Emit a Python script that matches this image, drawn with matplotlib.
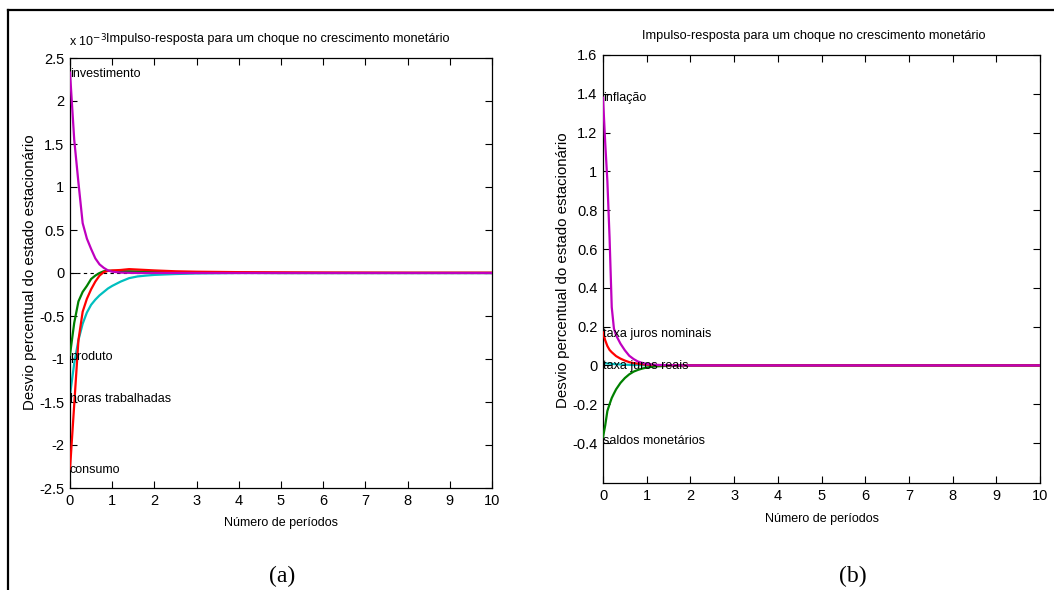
import matplotlib
matplotlib.use("Agg")
import matplotlib.pyplot as plt
from matplotlib.lines import Line2D

plt.rcParams['font.family'] = ['Liberation Sans', 'DejaVu Sans']

# ---------------- data: panel (a), values x 10^-3 ----------------
t_a = [0, 0.1, 0.2, 0.3, 0.4, 0.5, 0.6, 0.7, 0.8, 0.9, 1.0, 1.2, 1.4, 1.6, 1.8, 2.0,
       2.5, 3.0, 4, 5, 6, 7, 8, 9, 10]
horas = [-1.42, -1.05, -0.78, -0.59, -0.46, -0.37, -0.31, -0.26, -0.22, -0.18, -0.15,
         -0.10, -0.06, -0.04, -0.03, -0.022, -0.012, -0.005, 0, 0, 0, 0, 0, 0, 0]
produto = [-0.95, -0.58, -0.33, -0.22, -0.15, -0.07, -0.03, 0.0, 0.02, 0.025, 0.025,
           0.02, 0.02, 0.018, 0.015, 0.012, 0.008, 0.005, 0.002, 0, 0, 0, 0, 0, 0]
consumo = [-2.28, -1.53, -0.78, -0.45, -0.30, -0.19, -0.10, -0.03, 0.01, 0.025, 0.03,
           0.035, 0.045, 0.04, 0.035, 0.03, 0.02, 0.015, 0.01, 0.008, 0.006, 0.005, 0.004, 0.004, 0.004]
investimento = [2.33, 1.55, 1.05, 0.58, 0.40, 0.28, 0.17, 0.10, 0.06, 0.03, 0.015,
                0.005, 0.002, 0, 0, 0, 0, 0, 0, 0, 0, 0, 0, 0, 0]

# ---------------- data: panel (b) ----------------
t_b = [0, 0.05, 0.1, 0.15, 0.2, 0.25, 0.3, 0.4, 0.5, 0.6, 0.7, 0.8, 0.9, 1.0, 1.2,
       1.5, 2, 3, 4, 5, 6, 7, 8, 9, 10]
juros_reais = [0.012, 0.011, 0.01, 0.009, 0.008, 0.007, 0.006, 0.005, 0.004, 0.003,
               0.002, 0.002, 0.001, 0.001, 0, 0, 0, 0, 0, 0, 0, 0, 0, 0, 0]
saldos = [-0.37, -0.31, -0.235, -0.2, -0.168, -0.145, -0.123, -0.09, -0.065, -0.046,
          -0.032, -0.023, -0.016, -0.011, -0.005, -0.002, 0, 0, 0, 0, 0, 0, 0, 0, 0]
juros_nominais = [0.17, 0.13, 0.10, 0.08, 0.068, 0.058, 0.048, 0.035, 0.025, 0.017,
                  0.012, 0.009, 0.006, 0.004, 0.002, 0.001, 0, 0, 0, 0, 0, 0, 0, 0, 0]
inflacao = [1.38, 1.15, 0.95, 0.66, 0.30, 0.19, 0.155, 0.112, 0.078, 0.05, 0.033,
            0.02, 0.013, 0.008, 0.003, 0.001, 0, 0, 0, 0, 0, 0, 0, 0, 0]

xticks = list(range(0, 11))
yticks_a = [-2.5, -2, -1.5, -1, -0.5, 0, 0.5, 1, 1.5, 2, 2.5]
yticks_b = [-0.4, -0.2, 0, 0.2, 0.4, 0.6, 0.8, 1, 1.2, 1.4, 1.6]

title = 'Impulso-resposta para um choque no crescimento monetário'
ylabel = 'Desvio percentual do estado estacionário'
xlabel = 'Número de períodos'

MAG = '#BF00BF'
GRN = '#008000'
RED = '#FF0000'
CYN = '#00BFBF'
LW = 1.6
FS = 10.5     # tick labels
FT = 9.2      # titles
FA = 9.0      # annotations / x labels
FY = 10.8     # y labels

W, H = 1054, 590
fig = plt.figure(figsize=(W / 100, H / 100), dpi=100)


def fx(px):
    return px / W


def fy(py):
    return 1 - py / H


def style(ax, yticks, ylim):
    ax.set_xlim(0, 10)
    ax.set_ylim(*ylim)
    ax.set_xticks(xticks)
    ax.set_yticks(yticks)
    ax.set_yticklabels([('%g' % v) for v in yticks])
    ax.tick_params(direction='in', top=True, right=True, length=5, width=0.8,
                   labelsize=FS, pad=4)
    for s in ax.spines.values():
        s.set_linewidth(0.9)


# ---- panel (a)
ax1 = fig.add_axes([fx(70), fy(488), fx(492 - 70), (488 - 58) / H])
ax1.axhline(0, color='black', lw=0.8, ls=(0, (3, 3)), zorder=1)
ax1.plot(t_a, horas, color=CYN, lw=LW, zorder=2)
ax1.plot(t_a, produto, color=GRN, lw=LW, zorder=3)
ax1.plot(t_a, consumo, color=RED, lw=LW, zorder=4)
ax1.plot(t_a, investimento, color=MAG, lw=LW, zorder=5)
style(ax1, yticks_a, (-2.5, 2.5))
ax1.text(0, 2.31, 'investimento', fontsize=FA, va='center', ha='left', zorder=6)
ax1.text(0, -0.98, 'produto', fontsize=FA, va='center', ha='left', zorder=6)
ax1.text(0, -1.47, 'horas trabalhadas', fontsize=FA, va='center', ha='left', zorder=6)
ax1.text(0, -2.29, 'consumo', fontsize=FA, va='center', ha='left', zorder=6)
fig.text(fx(69), fy(41), r'x 10$^{-3}$', fontsize=FA, ha='left', va='center')
fig.text(fx(278), fy(39), title, fontsize=FT, ha='center', va='center')
fig.text(fx(281), fy(523), xlabel, fontsize=FA, ha='center', va='center')
fig.text(fx(30), fy(272), ylabel, fontsize=FY, ha='center', va='center', rotation=90)

# ---- panel (b)
ax2 = fig.add_axes([fx(603), fy(483), fx(1040 - 603), (483 - 55) / H])
ax2.plot(t_b, juros_reais, color=CYN, lw=LW, zorder=2)
ax2.plot(t_b, saldos, color=GRN, lw=LW, zorder=3)
ax2.plot(t_b, juros_nominais, color=RED, lw=LW, zorder=4)
ax2.plot(t_b, inflacao, color=MAG, lw=LW, zorder=5)
style(ax2, yticks_b, (-0.606, 1.6))
ax2.text(0, 1.38, 'inflação', fontsize=FA, va='center', ha='left', zorder=6)
ax2.text(0, 0.16, 'taxa juros nominais', fontsize=FA, va='center', ha='left', zorder=6)
ax2.text(0, -0.005, 'taxa juros reais', fontsize=FA, va='center', ha='left', zorder=6)
ax2.text(0, -0.39, 'saldos monetários', fontsize=FA, va='center', ha='left', zorder=6)
fig.text(fx(814), fy(36), title, fontsize=FT, ha='center', va='center')
fig.text(fx(822), fy(519), xlabel, fontsize=FA, ha='center', va='center')
fig.text(fx(563), fy(270), ylabel, fontsize=FY, ha='center', va='center', rotation=90)

# ---- captions
fig.text(fx(282), fy(576), '(a)', fontsize=17, ha='center', va='center',
         family=['Liberation Serif', 'DejaVu Serif'])
fig.text(fx(853), fy(576), '(b)', fontsize=17, ha='center', va='center',
         family=['Liberation Serif', 'DejaVu Serif'])

# ---- outer frame (top and left)
fig.add_artist(Line2D([fx(8), 1], [fy(10), fy(10)], color='black', lw=1.6,
                      transform=fig.transFigure))
fig.add_artist(Line2D([fx(8), fx(8)], [fy(10), 0], color='black', lw=1.6,
                      transform=fig.transFigure))

fig.savefig('out.png', dpi=100)
